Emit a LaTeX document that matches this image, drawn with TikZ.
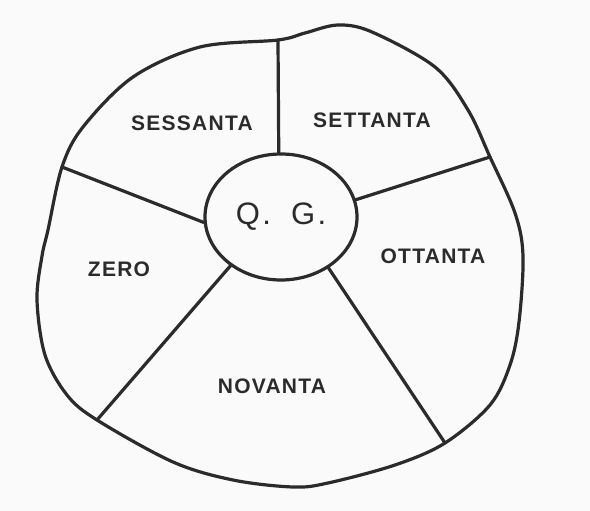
\documentclass[tikz,border=0pt]{standalone}
\usepackage{fontspec}
\setmainfont{Liberation Sans}
\usepackage{tikz}
\usetikzlibrary{shapes.geometric}
\definecolor{ink}{HTML}{2B2B2B}
\tikzstyle{hub} = [ellipse, draw, minimum width=152pt, minimum height=126pt, inner sep=0pt, font={\fontsize{31}{31}\selectfont\addfontfeature{LetterSpace=8}}]
\tikzstyle{sector} = [inner sep=0pt, font={\fontsize{21}{21}\selectfont\bfseries\addfontfeature{LetterSpace=6}}]

\begin{document}
\begin{tikzpicture}[x=1pt, y=-1pt, color=ink, line width=3.2pt, line join=round, line cap=round]
    \useasboundingbox[fill=black!2] (0,0) rectangle (590,511);

    % Outer rim
    \draw plot[smooth cycle, tension=0.55] coordinates {
        (278,40) (305,33) (338,25) (372,32) (435,67) (468,110) (490,157)
        (515,213) (523,256) (519,322) (510,365) (490,405) (445,443)
        (395,465) (328,483) (293,487) (233,480) (173,462) (97,420)
        (67,395) (45,355) (37,300) (42,256) (48,230) (62,167) (83,127)
        (133,77) (200,47)};

    % Rim junctions
    \coordinate (jtop) at (278,40);
    \coordinate (jright) at (490,157);
    \coordinate (jlowright) at (445,443);
    \coordinate (jlowleft) at (97,420);
    \coordinate (jleft) at (62,167);

    % Headquarters
    \node[hub] (qg) at (281,217) {Q.\hspace{20pt}G.};

    % Spokes
    \draw (qg.92) -- (jtop);
    \draw (qg.13) -- (jright);
    \draw (qg.313) -- (jlowright);
    \draw (qg.224) -- (jlowleft);
    \draw (qg.184) -- (jleft);

    % Sector labels
    \node[sector] (sessanta) at (192,123) {SESSANTA};
    \node[sector] (settanta) at (372,120) {SETTANTA};
    \node[sector] (ottanta) at (433,256) {OTTANTA};
    \node[sector] (novanta) at (272,386) {NOVANTA};
    \node[sector] (zero) at (119,269) {ZERO};
\end{tikzpicture}
\end{document}
